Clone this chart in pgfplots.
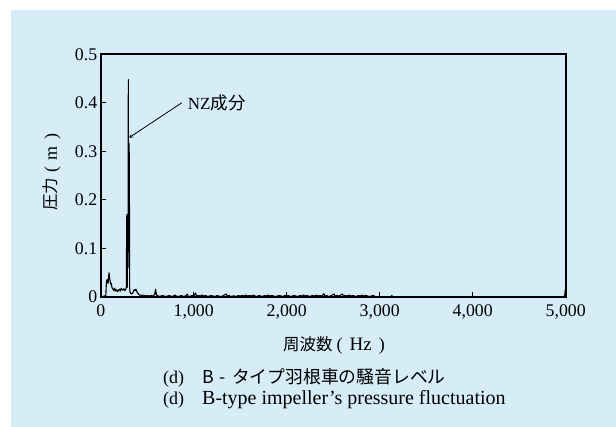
\documentclass[border=0pt]{standalone}
\usepackage{pgfplots}
\pgfplotsset{compat=1.18}
\usepackage{fontspec}
\setmainfont{Liberation Serif}
\newfontfamily\cjk{Noto Sans CJK JP}
\definecolor{bg}{RGB}{214,237,248}
\begin{document}
\begin{tikzpicture}[x=1pt,y=1pt]
\path[use as bounding box] (0,0) rectangle (616,427);
\fill[white] (0,0) rectangle (616,427);
\fill[bg] (11,0) rectangle (616,417);
\begin{axis}[
  at={(100.7pt,130pt)}, anchor=south west,
  scale only axis, width=465pt, height=242.7pt,
  xmin=0, xmax=5000, ymin=0, ymax=0.5,
  axis line style={line width=1.7pt},
  tick style={line width=1.1pt, black},
  major tick length=5pt,
  tick align=inside, xtick pos=bottom, ytick pos=left,
  xtick={0,1000,2000,3000,4000,5000},
  xticklabels={0,{1,000},{2,000},{3,000},{4,000},{5,000}},
  ytick={0,0.1,0.2,0.3,0.4,0.5},
  yticklabels={0,0.1,0.2,0.3,0.4,0.5},
  /pgf/number format/assume math mode=true,
  ticklabel style={font=\fontsize{17.8}{20}\selectfont},
  xticklabel style={yshift=-3.9pt},
  clip=false,
]
\addplot[black, line width=1.1pt, line join=round] coordinates {
(0,0) (20,0.001) (40,0.002) (55,0.003) (60,0.025) (65,0.035) (70,0.03) (75,0.036) (80,0.028) (85,0.042) (90,0.05) (95,0.04) (100,0.034) (105,0.03) (110,0.025) (115,0.028) (120,0.02) (130,0.017) (140,0.013) (150,0.018) (160,0.012) (170,0.015) (180,0.011) (190,0.014) (200,0.016) (210,0.012) (220,0.018) (230,0.015) (240,0.014) (250,0.017) (260,0.013) (270,0.016) (276,0.02) (279,0.145) (281,0.17) (283,0.15) (286,0.02) (290,0.15) (294,0.06) (297,0.448) (299,0.1) (302,0.2) (305,0.317) (307,0.29) (309,0.2) (311,0.02) (315,0.01) (330,0.006) (345,0.008) (360,0.015) (370,0.013) (380,0.016) (390,0.01) (400,0.008) (410,0.005) (420,0.004) (440,0.003) (460,0.004) (480,0.002) (500,0.003) (520,0.002) (540,0.003) (560,0.002) (580,0.005) (590,0.016) (600,0.004)
(620,0.002) (640,0.001) (660,0.003) (680,0.002) (700,0.001) (720,0.002) (740,0.003) (760,0.001) (780,0.002) (800,0.004) (810,0.002) (830,0.001) (850,0.002) (870,0.003) (890,0.001) (910,0.002) (930,0.006) (940,0.002) (960,0.001) (980,0.003) (1000,0.002) (1020,0.008) (1030,0.002) (1050,0.003) (1070,0.002) (1090,0.004) (1110,0.002) (1130,0.003) (1150,0.001) (1170,0.002) (1190,0.003) (1210,0.002) (1230,0.001) (1250,0.003) (1270,0.002) (1290,0.001) (1310,0.002) (1330,0.004) (1350,0.006) (1360,0.002) (1380,0.003) (1400,0.001) (1420,0.002) (1440,0.002) (1460,0.001) (1480,0.003) (1500,0.002) (1520,0.003) (1540,0.002) (1560,0.004) (1580,0.002) (1600,0.003) (1620,0.002) (1640,0.004) (1660,0.002) (1680,0.001) (1700,0.003) (1720,0.002) (1740,0.001) (1760,0.003) (1780,0.002) (1800,0.004) (1820,0.002) (1840,0.003) (1860,0.002) (1880,0.001) (1900,0.002) (1920,0.003) (1940,0.002) (1960,0.001) (1980,0.003) (2000,0.002) (2020,0.003) (2040,0.001) (2060,0.002) (2080,0.003) (2100,0.002) (2120,0.001) (2140,0.003) (2160,0.002) (2180,0.004) (2200,0.002) (2220,0.003) (2240,0.001) (2260,0.002) (2280,0.003) (2300,0.002) (2320,0.004) (2340,0.002) (2360,0.003) (2380,0.002) (2400,0.007) (2410,0.002) (2430,0.003) (2450,0.001) (2470,0.002) (2490,0.004) (2510,0.006) (2520,0.002) (2540,0.003) (2560,0.002) (2580,0.004) (2600,0.006) (2610,0.002) (2630,0.003) (2650,0.002) (2670,0.004) (2690,0.002) (2710,0.003) (2730,0.002) (2750,0.001) (2770,0.003) (2790,0.002) (2810,0.004) (2830,0.002) (2850,0.003) (2870,0.002) (2890,0.001) (2910,0.002) (2930,0.003) (2950,0.001) (2970,0) (3100,0) (3120,0.001) (3130,0.003) (3140,0) (4980,0) (4990,0.004) (4995,0.015) (5000,0.012)
};
\draw[-stealth, line width=0.8pt] (axis cs:871,0.400) -- (axis cs:304,0.328);
\node[anchor=west, inner sep=0pt, font=\fontsize{17}{20}\selectfont] at (axis cs:935,0.400) {NZ{\fontsize{17.5}{20}\selectfont\cjk 成分}};
\end{axis}
\node[font=\fontsize{18}{20}\selectfont] at (334,82) {{\fontsize{16.5}{18}\selectfont\cjk 周波数}\hspace{4pt}(\hspace{7pt}{\fontsize{19}{20}\selectfont Hz}\hspace{7pt})};
\node[rotate=90, font=\fontsize{18}{20}\selectfont] at (52,255) {{\fontsize{16.5}{18}\selectfont\cjk 圧力}\hspace{5pt}(\hspace{7pt}m\hspace{7pt})};
\node[anchor=west, inner sep=0pt, font=\fontsize{18}{20}\selectfont] at (163,49) {(d)\hspace{1.0em}{\fontsize{17.8}{20}\selectfont\cjk B\hspace{6pt}-\hspace{6pt}タイプ羽根車の騒音レベル}};
\node[anchor=west, inner sep=0pt, font=\fontsize{18}{20}\selectfont] at (163,27) {(d)\hspace{1.0em}{\fontsize{20}{22}\selectfont B-type impeller’s pressure fluctuation}};
\end{tikzpicture}
\end{document}
